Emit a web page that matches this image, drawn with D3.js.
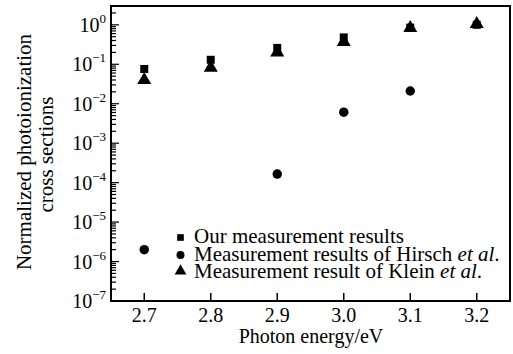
<!DOCTYPE html>
<html><head><meta charset="utf-8">
<script src="https://cdn.jsdelivr.net/npm/d3@7"></script>
<style>
html,body{margin:0;padding:0;background:#fff;}
svg{display:block;}
text{font-family:"Liberation Serif","Times New Roman",serif;fill:#000;}
</style></head>
<body>
<script>
const energies = [2.7, 2.8, 2.9, 3.0, 3.1, 3.2];
const ourValues = [0.076, 0.13, 0.26, 0.48, 0.85, 1.0];
const hirschEnergies = [2.7, 2.9, 3.0, 3.1];
const hirschValues = [2.0e-6, 1.65e-4, 6.1e-3, 0.021];
const kleinValues = [0.04, 0.082, 0.2, 0.37, 0.83, 1.05];
const xTicks = [2.7, 2.8, 2.9, 3.0, 3.1, 3.2];
const yTickExps = [0, -1, -2, -3, -4, -5, -6, -7];
const legendLabels = ["Our measurement results", "Measurement results of Hirsch ", "Measurement result of Klein "];

const W = 513, H = 354;
const L = 111, T = 6, R = 510, B = 301;
const svg = d3.select("body").append("svg").attr("width", W).attr("height", H);

const x = d3.scaleLinear().domain([2.65, 3.25]).range([L, R]);
const y = d3.scaleLog().domain([1e-7, 3]).range([B, T]);

// frame
svg.append("rect").attr("x", L).attr("y", T).attr("width", R - L).attr("height", B - T)
  .attr("fill", "none").attr("stroke", "#000").attr("stroke-width", 2);

// y ticks (inside)
const minor = [];
for (let e = -7; e <= 0; e++) for (let m = 1; m <= 9; m++) { const v = m * Math.pow(10, e); if (v <= 3) minor.push(v); }
svg.append("g").selectAll("line").data(minor).join("line")
  .attr("x1", L).attr("x2", d => (Math.abs(Math.log10(d) - Math.round(Math.log10(d))) < 1e-9) ? L + 8 : L + 5)
  .attr("y1", d => y(d)).attr("y2", d => y(d)).attr("stroke", "#000").attr("stroke-width", 1.2);

const yl = svg.append("g");
yTickExps.forEach(e => {
  const t = yl.append("text").attr("x", 106).attr("y", y(Math.pow(10, e)) + 7).attr("text-anchor", "end").attr("font-size", 20);
  t.append("tspan").text("10");
  t.append("tspan").attr("dy", -9).attr("font-size", 13).text(e === 0 ? "0" : "\u2212" + (-e));
});

// x ticks (inside)
svg.append("g").selectAll("line").data(xTicks).join("line")
  .attr("x1", d => x(d)).attr("x2", d => x(d)).attr("y1", B).attr("y2", B - 8)
  .attr("stroke", "#000").attr("stroke-width", 1.5);
svg.append("g").selectAll("text").data(xTicks).join("text")
  .attr("x", d => x(d)).attr("y", 322).attr("text-anchor", "middle").attr("font-size", 20)
  .text(d => d3.format(".1f")(d));

// axis titles
svg.append("text").attr("x", 311).attr("y", 343).attr("text-anchor", "middle").attr("font-size", 20).text("Photon energy/eV");
svg.append("text").attr("transform", "translate(31,152) rotate(-90)").attr("text-anchor", "middle").attr("font-size", 21).text("Normalized photoionization");
svg.append("text").attr("transform", "translate(53,154.5) rotate(-90)").attr("text-anchor", "middle").attr("font-size", 21).text("cross sections");

const sq = d3.symbol().type(d3.symbolSquare);
const tri = d3.symbol().type(d3.symbolTriangle);
const cir = d3.symbol().type(d3.symbolCircle);

// data
svg.append("g").selectAll("path").data(energies.map((e, i) => [e, ourValues[i]])).join("path")
  .attr("transform", d => `translate(${x(d[0])},${y(d[1])})`).attr("d", sq.size(64)()).attr("fill", "#000");
svg.append("g").selectAll("path").data(energies.map((e, i) => [e, kleinValues[i]])).join("path")
  .attr("transform", d => `translate(${x(d[0])},${y(d[1])})`).attr("d", tri.size(85)()).attr("fill", "#000");
svg.append("g").selectAll("path").data(hirschEnergies.map((e, i) => [e, hirschValues[i]])).join("path")
  .attr("transform", d => `translate(${x(d[0])},${y(d[1])})`).attr("d", cir.size(70)()).attr("fill", "#000");

// legend
const lg = svg.append("g");
const markY = [237.5, 255, 271];
const textY = [243, 261, 278];
const syms = [sq.size(44)(), cir.size(50)(), tri.size(60)()];
legendLabels.forEach((lab, i) => {
  lg.append("path").attr("transform", `translate(180.5,${markY[i]})`).attr("d", syms[i]).attr("fill", "#000");
  const t = lg.append("text").attr("x", 194).attr("y", textY[i]).attr("font-size", 21).text(lab);
  if (i > 0) t.append("tspan").attr("font-style", "italic").text("et al");
  if (i > 0) t.append("tspan").text(".");
});
</script>
</body></html>
